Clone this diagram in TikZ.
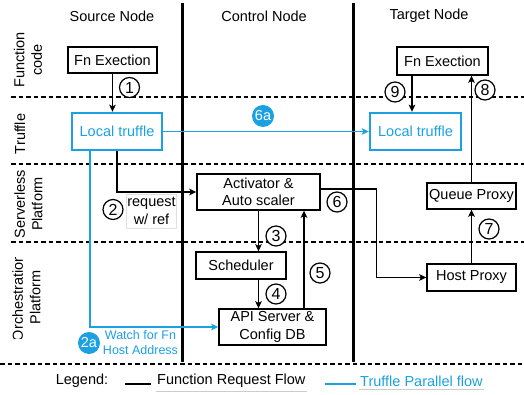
\documentclass[tikz,border=0pt]{standalone}
\usepackage{fontspec}
\setmainfont{Liberation Sans}
\usepackage{xcolor}
\usepackage{tikz}
\usetikzlibrary{arrows.meta}

\definecolor{truffle}{RGB}{27,161,226}

\tikzset{
    box/.style={draw, line width=1.4pt, inner sep=0pt, align=center},
    tbox/.style={draw=truffle, text=truffle, line width=2.4pt, inner sep=0pt},
    num/.style={draw, fill=white, circle, line width=1.2pt, minimum size=20pt, inner sep=0pt, font=\fontsize{16}{18}\selectfont},
    bnum/.style={fill=truffle, circle, text=white, minimum size=22pt, inner sep=0pt},
    flow/.style={line width=1.4pt, -{Stealth[length=7pt,width=6.5pt,inset=1.5pt]}},
    tflow/.style={flow, draw=truffle},
    lane/.style={line width=1.3pt, dash pattern=on 4.5pt off 3pt},
    side/.style={rotate=90, align=center}
}

\begin{document}
\begin{tikzpicture}[x=1pt, y=-1pt, font=\fontsize{14.5}{17.5}\selectfont]
                \useasboundingbox (0,0) rectangle (524,395);
                % lanes and node borders
                \foreach \y in {97, 164, 242} {
                    \draw[lane] (11,\y) -- (524,\y);
                }
                \draw[lane] (0,364) -- (524,364);
                \foreach \x in {182, 353} {
                    \draw[line width=3pt] (\x,3) -- (\x,362);
                }
                \node at (112,16) {Source Node};
                \node at (264,16) {Control Node};
                \node at (429,16) {Target Node};
                \node[side] at (28,60) {Function\\code};
                \node[side] at (20,134) {Truffle};
                \node[side] at (28.5,204) {Serverless\\Platform};
                \begin{scope}
                    \clip (0,257) rectangle (60,338);
                    \node[side] at (26.5,297.5) {Orchestration\\Platform};
                \end{scope}
                % boxes
                \node[box, minimum width=89pt, minimum height=26pt] (srcfn) at (112.5,60) {Fn Exection};
                \node[tbox, minimum width=90pt, minimum height=37pt] (srctr) at (117,131.5) {Local truffle};
                \node[box, minimum width=91pt, minimum height=28pt] (tgtfn) at (442.5,61) {Fn Exection};
                \node[tbox, minimum width=91pt, minimum height=37pt] (tgttr) at (415.5,131.5) {Local truffle};
                \node[box, minimum width=123pt, minimum height=36pt] (act) at (258.5,192) {Activator \&\\Auto scaler};
                \node[box, minimum width=90pt, minimum height=27pt] (sched) at (241,265.5) {Scheduler};
                \node[box, minimum width=107pt, minimum height=36pt] (api) at (272.5,327) {API Server \&\\Config DB};
                \node[box, minimum width=89pt, minimum height=26pt] (qp) at (471.5,196) {Queue Proxy};
                \node[box, minimum width=89pt, minimum height=27pt] (hp) at (471.5,277.5) {Host Proxy};
                % labels
                \node[draw=black!12, fill=white, align=center, inner sep=1pt, minimum width=49pt, minimum height=34pt] (req) at (151.5,211) {request\\w/ ref};
                \node[text=truffle, align=center, inner sep=1pt, font=\fontsize{12.5}{15}\selectfont] (watch) at (140.5,343) {Watch for Fn\\Host Address};
                \node[num] (n1) at (129.5,87.5) {1};
                \node[num] (n2) at (113,209.5) {2};
                \node[num] (n3) at (276,236) {3};
                \node[num] (n4) at (276,294) {4};
                \node[num] (n5) at (320,273) {5};
                \node[num] (n6) at (337,202) {6};
                \node[num] (n7) at (489,229) {7};
                \node[num] (n8) at (485,90) {8};
                \node[num] (n9) at (395,92) {9};
                \node[bnum] (n2a) at (89,343) {2a};
                \node[bnum] (n6a) at (263,116) {6a};
                % function request flow
                \coordinate (up9) at ([xshift=-30.5pt]tgtfn.south);
                \coordinate (up5) at ([xshift=31.5pt]api.north);
                \coordinate (tw) at ([xshift=-27pt]srctr.south);
                \draw[flow] (srcfn.south) -- (srcfn.south |- srctr.north);
                \draw[flow] (srctr.south) |- (act.west);
                \draw[flow] (act.south) -- (act.south |- sched.north);
                \draw[flow] (act.south |- sched.south) -- (act.south |- api.north);
                \draw[flow] (up5) -- (up5 |- act.south);
                \draw[flow] ([yshift=3pt]act.east) -- ++(56,0) |- (hp.west);
                \draw[flow] (hp.north) -- (qp.south);
                \draw[flow] (qp.north) -- (qp.north |- tgtfn.south);
                \draw[flow] (up9) -- (up9 |- tgttr.north);
                % truffle parallel flow
                \draw[tflow] (tw) |- (api.west);
                \draw[tflow] (srctr.east) -- (tgttr.west);
                % legend
                \node (leg) at (82,381) {Legend:};
                \node[anchor=west, inner sep=1pt] (lf) at (156,381) {Function Request Flow};
                \node[anchor=west, inner sep=1pt, text=truffle] (lt) at (359,381) {Truffle Parallel flow};
                \draw[black!20] ([yshift=-2pt]lf.south west) -- ([yshift=-2pt]lf.south east);
                \draw[black!20] ([yshift=-2pt]lt.south west) -- ([yshift=-2pt]lt.south east);
                \draw[line width=1.4pt] (125,384) -- (151,384);
                \draw[line width=1.4pt, truffle] (325,384) -- (356,384);
            \end{tikzpicture}
\end{document}
